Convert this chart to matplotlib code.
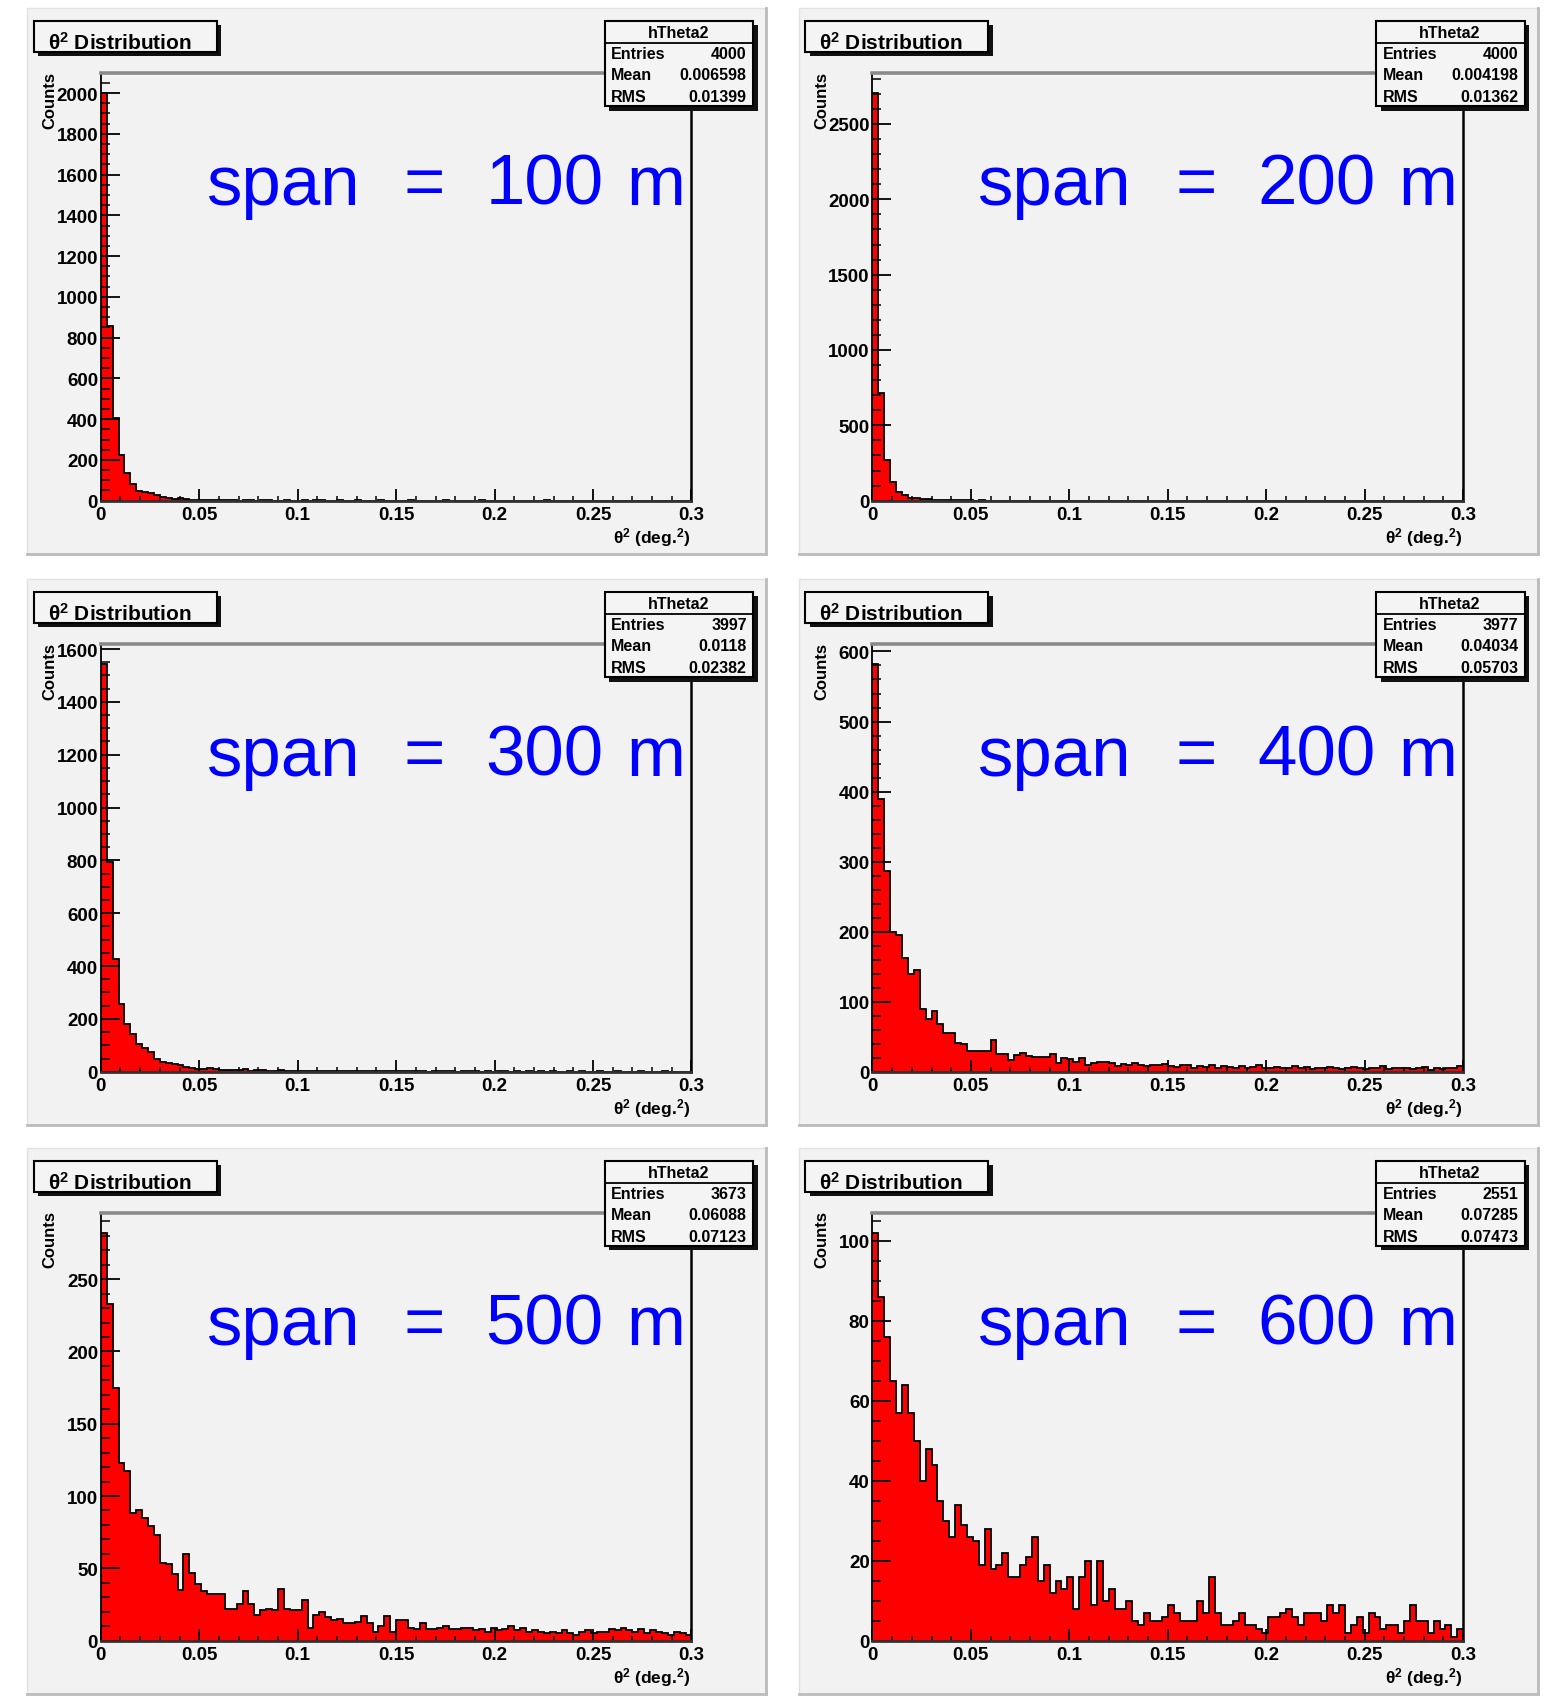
import numpy as np
import matplotlib.pyplot as plt
from matplotlib.patches import Rectangle
from matplotlib.lines import Line2D
from matplotlib.ticker import MultipleLocator, FuncFormatter

plt.rcParams['font.family'] = ['Liberation Sans', 'DejaVu Sans']
plt.rcParams['mathtext.default'] = 'regular'

# theta^2 histograms: 100 bins between 0 and 0.3 deg^2
edges = np.linspace(0, 0.3, 101)

counts_100 = [2000, 855, 405, 222, 136, 82, 49, 45, 38, 28,
              16, 11, 8, 13, 8, 5, 5, 3, 2, 2,
              1, 2, 1, 0, 1, 1, 0, 2, 1, 0,
              0, 1, 0, 0, 1, 0, 2, 1, 0, 0,
              1, 0, 0, 1, 0, 0, 0, 1, 0, 0,
              0, 0, 1, 0, 0, 0, 0, 0, 1, 0,
              0, 0, 0, 0, 1, 0, 0, 0, 0, 0,
              0, 0, 0, 0, 0, 1, 0, 0, 0, 0,
              0, 0, 0, 0, 0, 0, 0, 0, 0, 0,
              0, 0, 0, 0, 0, 0, 0, 0, 0, 0]

counts_200 = [2705, 712, 271, 125, 59, 35, 21, 16, 12, 8,
              6, 5, 4, 3, 3, 2, 2, 1, 2, 1,
              1, 1, 0, 1, 0, 1, 0, 0, 1, 0,
              0, 1, 0, 0, 0, 0, 1, 0, 0, 0,
              0, 0, 0, 1, 0, 0, 0, 0, 0, 0,
              0, 0, 0, 0, 0, 0, 0, 1, 0, 0,
              0, 0, 0, 0, 0, 0, 0, 0, 0, 0,
              0, 0, 0, 0, 0, 0, 0, 0, 0, 0,
              0, 0, 0, 0, 0, 0, 0, 0, 0, 0,
              0, 0, 0, 0, 0, 0, 0, 0, 0, 0]

counts_300 = [1543, 792, 425, 255, 180, 142, 104, 88, 75, 48,
              35, 33, 29, 25, 19, 15, 10, 12, 15, 10,
              8, 6, 7, 5, 9, 4, 6, 5, 4, 3,
              5, 4, 2, 3, 4, 2, 3, 2, 3, 2,
              1, 2, 3, 1, 2, 2, 1, 3, 1, 2,
              1, 2, 1, 1, 2, 0, 1, 2, 1, 1,
              0, 1, 1, 2, 0, 1, 0, 1, 1, 0,
              1, 0, 1, 0, 1, 0, 1, 0, 0, 1,
              0, 1, 0, 0, 1, 0, 0, 1, 0, 0,
              0, 1, 0, 0, 0, 1, 0, 0, 0, 0]

counts_400 = [582, 389, 286, 199, 195, 163, 140, 145, 90, 75,
              87, 68, 55, 55, 41, 40, 30, 29, 29, 29,
              45, 26, 26, 17, 24, 27, 22, 21, 21, 21,
              25, 12, 19, 18, 14, 19, 10, 13, 14, 14,
              13, 8, 11, 9, 12, 10, 8, 10, 9, 11,
              8, 7, 9, 10, 6, 8, 7, 9, 6, 8,
              7, 5, 8, 6, 7, 9, 5, 6, 7, 5,
              6, 8, 5, 7, 4, 6, 5, 7, 6, 4,
              5, 7, 6, 4, 6, 5, 8, 4, 6, 5,
              5, 4, 6, 7, 3, 5, 4, 6, 5, 8]

counts_500 = [282, 233, 175, 123, 117, 88, 90, 85, 79, 73,
              54, 53, 46, 35, 60, 47, 39, 34, 32, 32,
              32, 22, 22, 25, 34, 25, 18, 21, 22, 21,
              36, 22, 21, 21, 28, 9, 18, 20, 16, 14,
              15, 12, 12, 13, 17, 12, 6, 10, 17, 6,
              14, 14, 9, 8, 12, 8, 8, 9, 10, 8,
              8, 9, 9, 7, 8, 6, 9, 7, 8, 10,
              7, 9, 6, 7, 6, 5, 6, 5, 7, 5,
              4, 6, 7, 5, 6, 6, 8, 7, 9, 7,
              6, 8, 5, 7, 6, 5, 4, 6, 5, 4]

counts_600 = [102, 86, 76, 65, 57, 64, 57, 50, 40, 48,
              44, 35, 30, 26, 34, 29, 26, 25, 19, 28,
              18, 19, 22, 16, 16, 19, 21, 26, 15, 19,
              12, 15, 13, 16, 8, 16, 20, 9, 20, 10,
              13, 8, 8, 10, 5, 4, 7, 5, 5, 6,
              9, 7, 5, 5, 5, 10, 7, 16, 7, 4,
              4, 5, 7, 4, 4, 3, 2, 6, 6, 7,
              8, 6, 4, 7, 7, 7, 5, 9, 7, 9,
              2, 4, 6, 2, 7, 6, 3, 4, 4, 2,
              5, 9, 5, 5, 2, 5, 3, 4, 1, 3]

all_counts = [counts_100, counts_200, counts_300, counts_400, counts_500, counts_600]
spans = ['100', '200', '300', '400', '500', '600']
entries = [4000, 4000, 3997, 3977, 3673, 2551]
means = ['0.006598', '0.004198', '0.0118', '0.04034', '0.06088', '0.07285']
rms = ['0.01399', '0.01362', '0.02382', '0.05703', '0.07123', '0.07473']
y_major = [200, 500, 200, 100, 50, 20]
y_minor = [50, 100, 50, 20, 10, 5]
x_ticks = [0, 0.05, 0.1, 0.15, 0.2, 0.25, 0.3]

W0, H0 = 1432.0, 1568.0
fig = plt.figure(figsize=(15.52, 16.99), dpi=100, facecolor='white')


def fx(x):
    return x / W0


def fy(y):
    return 1 - y / H0


def box(x0, y0, x1, y1, **kw):
    r = Rectangle((fx(x0), fy(y1)), (x1 - x0) / W0, (y1 - y0) / H0,
                  transform=fig.transFigure, **kw)
    fig.add_artist(r)
    return r


def hline(x0, x1, y, **kw):
    fig.add_artist(Line2D([fx(x0), fx(x1)], [fy(y), fy(y)], transform=fig.transFigure, **kw))


def vline(x, y0, y1, **kw):
    fig.add_artist(Line2D([fx(x), fx(x)], [fy(y0), fy(y1)], transform=fig.transFigure, **kw))


bold = dict(fontweight='bold', color='black')

for i, vals in enumerate(all_counts):
    dx = [0, 712][i % 2]
    dy = [0, 527, 1052][i // 2]

    # pad background with bevel on right/bottom
    box(25 + dx, 8 + dy, 707 + dx, 512 + dy, facecolor='#f2f2f2',
        edgecolor='#e2e2e2', lw=1, zorder=-10)
    vline(707 + dx, 8 + dy, 512 + dy, color='#bbbbbb', lw=2, zorder=-9)
    hline(25 + dx, 707 + dx, 512 + dy, color='#bbbbbb', lw=2, zorder=-9)

    ax = fig.add_axes([fx(93 + dx), fy(463 + dy), 545 / W0, 395 / H0])
    ax.set_facecolor('#f2f2f2')
    ax.stairs(vals, edges, fill=True, facecolor='#ff0000',
              edgecolor='black', linewidth=1.3)
    ax.set_xlim(0, 0.3)
    ax.set_ylim(0, 1.05 * max(vals))

    ax.spines['top'].set_color('#8a8a8a')
    ax.spines['top'].set_linewidth(2.6)
    ax.spines['right'].set_color('black')
    ax.spines['right'].set_linewidth(1.8)
    ax.spines['left'].set_linewidth(1.3)
    ax.spines['bottom'].set_color('#333333')
    ax.spines['bottom'].set_linewidth(2.0)

    ax.set_xticks(x_ticks)
    ax.xaxis.set_minor_locator(MultipleLocator(0.01))
    ax.xaxis.set_major_formatter(FuncFormatter(lambda v, p: '%g' % round(v, 3)))
    ax.yaxis.set_major_locator(MultipleLocator(y_major[i]))
    ax.yaxis.set_minor_locator(MultipleLocator(y_minor[i]))
    ax.yaxis.set_major_formatter(FuncFormatter(lambda v, p: '%d' % v))
    ax.tick_params(axis='x', which='major', direction='in', length=8.6, width=1.3, pad=4)
    ax.tick_params(axis='x', which='minor', direction='in', length=3.8, width=1.1)
    ax.tick_params(axis='y', which='major', direction='in', length=13.5, width=1.3, pad=2)
    ax.tick_params(axis='y', which='minor', direction='in', length=6.5, width=1.1)
    for lab in ax.get_xticklabels() + ax.get_yticklabels():
        lab.set_fontsize(13.5)
        lab.set_fontweight('bold')

    # big blue span label
    for frac, tok in zip([0.179, 0.513, 0.651, 0.89], ['span', '=', spans[i], 'm']):
        ax.text(frac, 0.694, tok, transform=ax.transAxes, fontsize=51,
                color='#0000ff', ha='left', va='baseline')

    # axis titles
    fig.text(fx(46 + dx), fy(66 + dy), 'Counts', rotation=90, ha='center',
             va='top', fontsize=12, **bold)
    fig.text(fx(637 + dx), fy(496 + dy), r'θ$^{2}$ (deg.$^{2}$)', ha='right',
             va='center', fontsize=12.5, **bold)

    # title pave
    box(35 + dx, 24 + dy, 204 + dx, 53 + dy, facecolor='#111111', edgecolor='none', zorder=4)
    box(31 + dx, 20 + dy, 200 + dx, 49 + dy, facecolor='#f4f4f4',
        edgecolor='black', lw=1.5, zorder=5)
    fig.text(fx(44 + dx), fy(46 + dy), r'θ$^{2}$ Distribution', ha='left',
             va='baseline', fontsize=15, zorder=6, **bold)

    # stats pave
    box(562 + dx, 24 + dy, 699 + dx, 103 + dy, facecolor='#111111', edgecolor='none', zorder=4)
    box(558 + dx, 20 + dy, 695 + dx, 99 + dy, facecolor='#f4f4f4',
        edgecolor='black', lw=1.5, zorder=5)
    hline(558 + dx, 695 + dx, 41 + dy, color='black', lw=1.3, zorder=6)
    fig.text(fx(626 + dx), fy(31 + dy), 'hTheta2', ha='center', va='center',
             fontsize=11.5, zorder=7, **bold)
    rows = [('Entries', str(entries[i])), ('Mean', means[i]), ('RMS', rms[i])]
    for (name, val), yy in zip(rows, [50, 70, 90]):
        fig.text(fx(564 + dx), fy(yy + dy), name, ha='left', va='center',
                 fontsize=11.5, zorder=7, **bold)
        fig.text(fx(689 + dx), fy(yy + dy), val, ha='right', va='center',
                 fontsize=11.5, zorder=7, **bold)

fig.savefig('out.png', dpi=100, facecolor='white')
